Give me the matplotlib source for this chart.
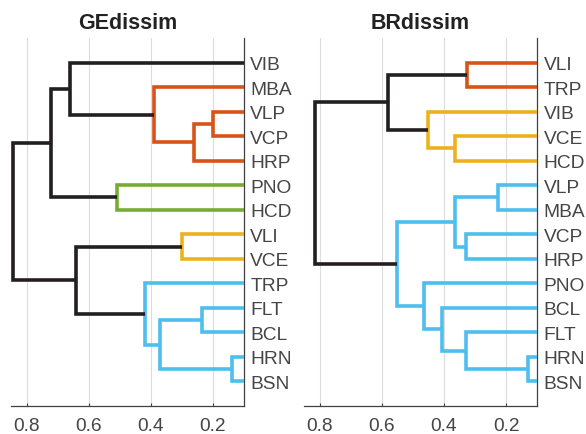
import matplotlib
matplotlib.use("Agg")
import matplotlib.pyplot as plt

plt.rcParams['font.family'] = ['Liberation Sans', 'DejaVu Sans']

RED = '#D95319'
YEL = '#EDB120'
GRN = '#77AC30'
BLU = '#4DBEEE'
BLK = '#231F20'

## GEdissim: leaves top to bottom, merges like a linkage table
ge_leaves = ['VIB', 'MBA', 'VLP', 'VCP', 'HRP', 'PNO', 'HCD',
             'VLI', 'VCE', 'TRP', 'FLT', 'BCL', 'HRN', 'BSN']
ge_a = [2, 14, 1, 0, 5, 17, 7, 12, 10, 22, 9, 20, 19]
ge_b = [3, 4, 15, 16, 6, 18, 8, 13, 11, 21, 23, 24, 25]
ge_h = [0.20, 0.26, 0.39, 0.66, 0.51, 0.72, 0.30, 0.14, 0.235, 0.37, 0.42, 0.64, 0.845]
ge_c = [RED, RED, RED, BLK, GRN, BLK, YEL, BLU, BLU, BLU, BLU, BLK, BLK]

## BRdissim
br_leaves = ['VLI', 'TRP', 'VIB', 'VCE', 'HCD', 'VLP', 'MBA',
             'VCP', 'HRP', 'PNO', 'BCL', 'FLT', 'HRN', 'BSN']
br_a = [0, 3, 2, 14, 5, 7, 18, 12, 11, 10, 9, 20, 17]
br_b = [1, 4, 15, 16, 6, 8, 19, 13, 21, 22, 23, 24, 25]
br_h = [0.325, 0.365, 0.45, 0.58, 0.225, 0.33, 0.365, 0.13, 0.33, 0.405, 0.465, 0.55, 0.815]
br_c = [RED, YEL, YEL, BLK, BLU, BLU, BLU, BLU, BLU, BLU, BLU, BLU, BLK]

xticks = [0.8, 0.6, 0.4, 0.2]


def draw_dendro(ax, leaves, a, b, h, c, title):
    n = len(leaves)
    pos = {i: i + 1 for i in range(n)}
    hgt = {i: 0.0 for i in range(n)}
    for k in range(len(a)):
        node = n + k
        ya, yb = pos[a[k]], pos[b[k]]
        ax.plot([hgt[a[k]], h[k], h[k], hgt[b[k]]], [ya, ya, yb, yb],
                color=c[k], lw=2.6, solid_joinstyle='miter',
                solid_capstyle='butt', zorder=3)
        pos[node] = (ya + yb) / 2
        hgt[node] = h[k]
    ax.set_xlim(0.85, 0.1)
    ax.set_ylim(n + 1, 0)
    ax.set_xticks(xticks)
    ax.set_xticklabels(['%.1f' % t for t in xticks])
    ax.set_yticks(range(1, n + 1))
    ax.set_yticklabels(leaves)
    ax.yaxis.tick_right()
    ax.tick_params(axis='y', length=0, pad=4.5, labelsize=13.8, labelcolor='#454545')
    ax.tick_params(axis='x', direction='in', length=2.5, width=0.8, color='#404040',
                   pad=8, labelsize=13.8, labelcolor='#454545')
    ax.grid(axis='x', color='#dcdcdc', lw=0.8, zorder=0)
    for s in ['left', 'top']:
        ax.spines[s].set_visible(False)
    for s in ['right', 'bottom']:
        ax.spines[s].set_color('#404040')
        ax.spines[s].set_linewidth(0.9)
    ax.set_title(title, fontsize=15.5, fontweight='bold', color='#222222', pad=7)


fig = plt.figure(figsize=(5.86, 4.35), dpi=100)
ax1 = fig.add_axes([0.0188, 0.0644, 0.3976, 0.846])
ax2 = fig.add_axes([0.5188, 0.0644, 0.398, 0.846])
draw_dendro(ax1, ge_leaves, ge_a, ge_b, ge_h, ge_c, 'GEdissim')
draw_dendro(ax2, br_leaves, br_a, br_b, br_h, br_c, 'BRdissim')

fig.savefig('out.png', dpi=100)
